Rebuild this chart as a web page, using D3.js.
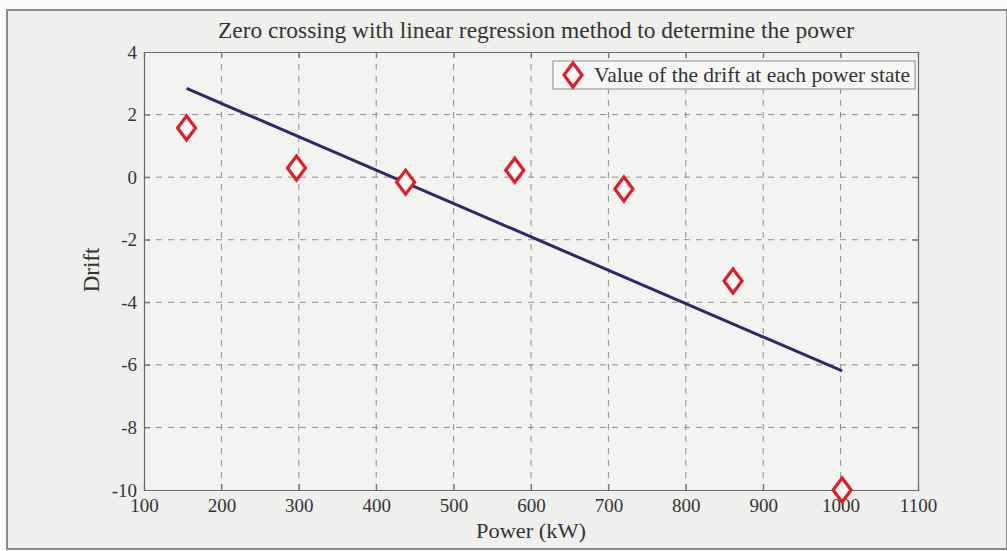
<!DOCTYPE html>
<html>
<head>
<meta charset="utf-8">
<script src="https://cdn.jsdelivr.net/npm/d3@7"></script>
<style>
  html, body { margin: 0; padding: 0; background: #ffffff; }
  svg { display: block; }
  text { font-family: "Liberation Serif", "Times New Roman", serif; fill: #333; }
</style>
</head>
<body>
<script>
// Measured drift at each power state
const powerKW = [155, 297, 438, 579, 720, 861, 1002];
const drift   = [1.57, 0.29, -0.16, 0.22, -0.38, -3.32, -10.0];

const xTicks = [100, 200, 300, 400, 500, 600, 700, 800, 900, 1000, 1100];
const yTicks = [4, 2, 0, -2, -4, -6, -8, -10];

const titleText = "Zero crossing with linear regression method to determine the power";
const xLabel = "Power (kW)";
const yLabel = "Drift";
const legendText = "Value of the drift at each power state";

const W = 1007, H = 551;
const plot = { left: 144, right: 918, top: 52, bottom: 490 };

const svg = d3.select("body").append("svg").attr("width", W).attr("height", H);

// figure panel
svg.append("rect").attr("x", 0).attr("y", 0).attr("width", W).attr("height", H).attr("fill", "#fbfbfa");
svg.append("rect").attr("x", 7).attr("y", 10).attr("width", W - 7).attr("height", H - 12)
  .attr("fill", "#efefed").attr("stroke", "#8a8a8a").attr("stroke-width", 2);

const x = d3.scaleLinear().domain([100, 1100]).range([plot.left, plot.right]);
const y = d3.scaleLinear().domain([-10, 4]).range([plot.bottom, plot.top]);

// plot area
svg.append("rect").attr("x", plot.left).attr("y", plot.top)
  .attr("width", plot.right - plot.left).attr("height", plot.bottom - plot.top)
  .attr("fill", "#f3f3f1");

// dashed grid
const grid = svg.append("g").attr("stroke", "#8c8c8c").attr("stroke-width", 1).attr("stroke-dasharray", "6,6");
grid.selectAll(".gx").data(xTicks.slice(1, -1)).join("line")
  .attr("x1", d => x(d)).attr("x2", d => x(d)).attr("y1", plot.top).attr("y2", plot.bottom);
grid.selectAll(".gy").data(yTicks.slice(1, -1)).join("line")
  .attr("y1", d => y(d)).attr("y2", d => y(d)).attr("x1", plot.left).attr("x2", plot.right);

// axes with inward ticks, boxed
const axisStyle = g => {
  g.selectAll(".domain").attr("stroke", "#6a6a6a").attr("stroke-width", 1.2);
  g.selectAll(".tick line").attr("stroke", "#6a6a6a");
  g.selectAll(".tick text").attr("font-family", "Liberation Serif, serif").attr("font-size", 19).attr("fill", "#444");
};
const plain = d => String(d);
svg.append("g").attr("transform", `translate(0,${plot.bottom})`)
  .call(d3.axisBottom(x).tickValues(xTicks).tickSize(-6).tickPadding(9).tickFormat(plain))
  .call(axisStyle);
svg.append("g").attr("transform", `translate(0,${plot.top})`)
  .call(d3.axisTop(x).tickValues(xTicks).tickSize(-6).tickFormat(""))
  .call(axisStyle);
svg.append("g").attr("transform", `translate(${plot.left},0)`)
  .call(d3.axisLeft(y).tickValues(yTicks).tickSize(-6).tickPadding(7).tickFormat(plain))
  .call(axisStyle);
svg.append("g").attr("transform", `translate(${plot.right},0)`)
  .call(d3.axisRight(y).tickValues(yTicks).tickSize(-6).tickFormat(""))
  .call(axisStyle);

// least-squares fit through the measured points
const mx = d3.mean(powerKW), my = d3.mean(drift);
const sxy = d3.sum(powerKW, (p, i) => (p - mx) * (drift[i] - my));
const sxx = d3.sum(powerKW, p => (p - mx) * (p - mx));
const slope = sxy / sxx, intercept = my - slope * mx;
const fitX = d3.extent(powerKW);

svg.append("path")
  .datum(fitX.map(p => [p, intercept + slope * p]))
  .attr("d", d3.line().x(d => x(d[0])).y(d => y(d[1])))
  .attr("fill", "none").attr("stroke", "#2b2a68").attr("stroke-width", 3);

// diamond markers
const diamond = "M0,-12L9,0L0,12L-9,0Z";
svg.append("g").selectAll("path").data(powerKW).join("path")
  .attr("transform", (p, i) => `translate(${x(p)},${y(drift[i])})`)
  .attr("d", diamond)
  .attr("fill", "#faf8f4").attr("stroke", "#dd1f2a").attr("stroke-width", 3.2);

// legend
const lg = svg.append("g");
lg.append("rect").attr("x", 553).attr("y", 61).attr("width", 362).attr("height", 28)
  .attr("fill", "#f6f6f4").attr("stroke", "#8a8a8a").attr("stroke-width", 1);
lg.append("path").attr("transform", "translate(573,75)").attr("d", diamond)
  .attr("fill", "#faf8f4").attr("stroke", "#dd1f2a").attr("stroke-width", 3.2);
lg.append("text").attr("x", 594).attr("y", 82).attr("font-size", 21)
  .attr("textLength", 316).attr("lengthAdjust", "spacingAndGlyphs").attr("fill", "#333").text(legendText);

// title and axis labels
svg.append("text").attr("x", 536).attr("y", 38)
  .attr("text-anchor", "middle").attr("font-size", 23)
  .attr("textLength", 636).attr("lengthAdjust", "spacingAndGlyphs").attr("fill", "#333").text(titleText);
svg.append("text").attr("x", 531).attr("y", 538)
  .attr("text-anchor", "middle").attr("font-size", 21)
  .attr("textLength", 110).attr("lengthAdjust", "spacingAndGlyphs").attr("fill", "#333").text(xLabel);
svg.append("text").attr("transform", `translate(99,270) rotate(-90)`)
  .attr("text-anchor", "middle").attr("font-size", 23).attr("fill", "#333").text(yLabel);
</script>
</body>
</html>
